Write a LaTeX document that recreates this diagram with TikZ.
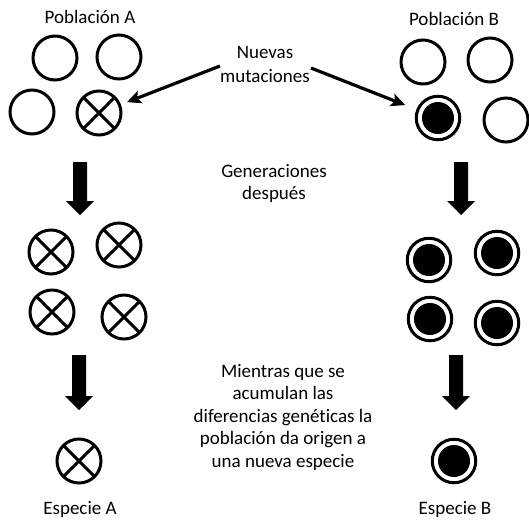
\documentclass[tikz,border=0pt]{standalone}
\usepackage{fontspec}
\setmainfont{Carlito}[Ligatures=NoCommon]
\usetikzlibrary{arrows.meta}
\newcommand\blkarrow[3]{% x, top, tip
  \fill (#1-7,#2) -- (#1+7,#2) -- (#1+7,#3-14) -- (#1+14,#3-14) -- (#1,#3) -- (#1-14,#3-14) -- (#1-7,#3-14) -- cycle;}
\begin{document}
\begin{tikzpicture}[x=1pt,y=-1pt,
  lbl/.style={font=\fontsize{19}{23}\selectfont, align=center, inner sep=0pt, anchor=base},
  cell/.style={circle, draw, line width=3pt, minimum size=44pt, inner sep=0pt},
  crossed/.style={cell, path picture={\draw[line width=3pt]
     (path picture bounding box.north west) -- (path picture bounding box.south east)
     (path picture bounding box.north east) -- (path picture bounding box.south west);}},
  mutant/.style={cell, minimum size=43.5pt, path picture={\fill (path picture bounding box.center) circle[radius=16pt];}},
  thinarrow/.style={line width=3.2pt, -{Stealth[length=14pt,width=13pt,inset=3pt]}}
]
\useasboundingbox (0,0) rectangle (529,520);

% labels (base anchor = baseline of the last line)
\node[lbl] (popA) at (90,23) {Población A};
\node[lbl] (popB) at (454,25) {Población B};
\node[lbl, font=\fontsize{19}{24}\selectfont] (mut) at (265,82) {Nuevas\\mutaciones};
\node[lbl, font=\fontsize{19}{22}\selectfont] (gen) at (274,199) {Generaciones\\después};
\node[lbl, font=\fontsize{19}{22.5}\selectfont] (mien) at (283,467) {Mientras que se\\acumulan las\\diferencias genéticas la\\población da origen a\\una nueva especie};
\node[lbl] (espA) at (80,514) {Especie A};
\node[lbl] (espB) at (455,514) {Especie B};

% population A
\node[cell] (a1) at (55,58) {};
\node[cell] (a2) at (119,57) {};
\node[cell] (a3) at (32,112) {};
\node[crossed] (a4) at (99,113) {};

% population B
\node[cell] (b1) at (423,62) {};
\node[cell] (b2) at (490,60) {};
\node[mutant] (b3) at (438,118) {};
\node[cell] (b4) at (506,120) {};

% generations A
\node[crossed] (c1) at (51,252) {};
\node[crossed] (c2) at (119,245) {};
\node[crossed] (c3) at (52,312) {};
\node[crossed] (c4) at (124,317) {};

% generations B
\node[mutant] (d1) at (429,260) {};
\node[mutant] (d2) at (497,253) {};
\node[mutant] (d3) at (430,319) {};
\node[mutant] (d4) at (497,323) {};

% species
\node[crossed] (sA) at (79,461) {};
\node[mutant] (sB) at (454,461) {};

% mutation arrows
\coordinate (mA) at (220,66);
\coordinate (mB) at (311,68);
\draw[thinarrow, shorten >=6.5pt] (mA) -- (a4);
\draw[thinarrow, shorten >=12pt] (mB) -- (b3);

% block arrows
\blkarrow{80}{162}{215}
\blkarrow{461}{162}{215}
\blkarrow{79}{355}{410}
\blkarrow{456}{355}{410}
\end{tikzpicture}
\end{document}
